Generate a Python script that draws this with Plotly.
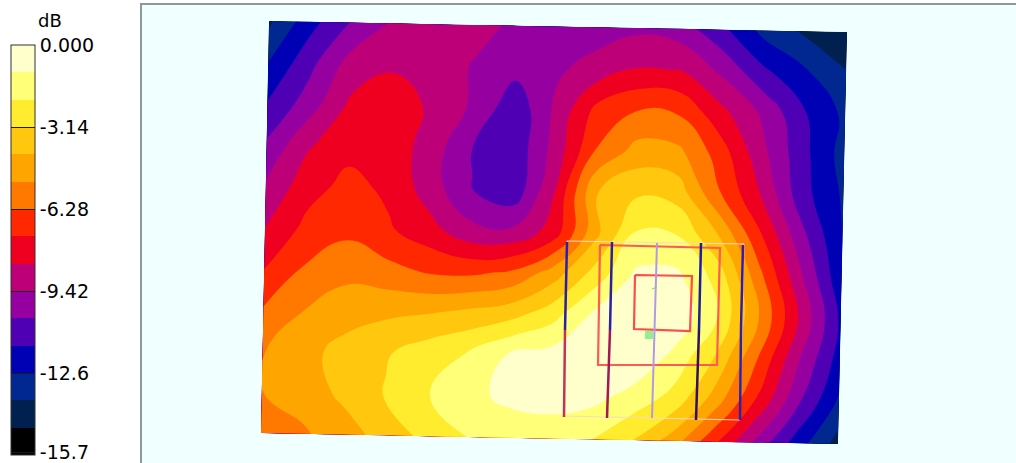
import plotly.graph_objects as go

# Band colours from the legend (lowest band first)
band_colors = ["#000000", "#00204F", "#002890", "#0000B4", "#5000B4", "#9600A0", "#BE0078",
               "#F00020", "#FF2800", "#FF7800", "#FFA500", "#FFC80F", "#FFEC2E", "#FFFF78", "#FFFFCC"]
tick_values = [-0.001, -3.14, -6.28, -9.42, -12.56, -15.6]
tick_labels = ["0.000", "-3.14", "-6.28", "-9.42", "-12.6", "-15.7"]

# Sample axes of the measured plane (top-left to bottom-right)
a_pos = [i / 14 for i in range(15)]
b_pos = [j / 10 for j in range(11)]
corner_tl = (269, 21)
corner_tr = (847, 32)
corner_bl = (261, 433)
corner_br = (838, 444)

# Field in dB, rows from top edge to bottom edge
field_db = [
    [-13.8, -11.9, -10.4, -9.3, -8.9, -9.1, -9.6, -9.85, -9.9, -9.65, -10.0, -11.3, -12.9, -13.8, -14.3],
    [-12.56, -10.8, -9.0, -8.55, -8.9, -9.5, -10.1, -9.6, -9.0, -8.3, -8.4, -9.65, -11.3, -12.4, -13.55],
    [-11.45, -9.95, -8.2, -7.65, -8.6, -9.6, -11.2, -9.2, -7.0, -6.28, -6.45, -8.1, -9.6, -11.4, -12.8],
    [-10.3, -8.5, -7.65, -7.75, -8.9, -10.5, -11.2, -9.0, -6.2, -4.8, -5.0, -6.8, -9.1, -11.2, -13.0],
    [-9.3, -7.75, -7.0, -7.55, -8.9, -10.45, -11.2, -8.4, -4.25, -3.3, -3.6, -6.2, -8.4, -11.1, -12.7],
    [-8.4, -7.05, -6.55, -7.2, -8.0, -9.1, -9.2, -7.9, -4.5, -1.95, -2.1, -4.2, -7.15, -10.1, -12.6],
    [-7.35, -6.15, -5.6, -5.95, -6.4, -6.5, -6.1, -4.7, -2.75, -0.85, -0.8, -2.5, -5.9, -9.2, -12.3],
    [-6.2, -5.23, -4.6, -4.4, -4.25, -3.9, -3.5, -2.5, -0.85, -0.3, -0.25, -2.1, -5.2, -8.5, -11.7],
    [-5.3, -4.5, -3.85, -3.25, -2.55, -2.0, -0.9, -0.6, -0.3, -0.15, -1.4, -3.3, -6.3, -9.4, -12.0],
    [-5.25, -4.75, -3.95, -3.05, -2.15, -1.4, -0.75, -0.55, -0.75, -1.5, -2.5, -4.7, -7.45, -10.3, -12.75],
    [-5.7, -5.4, -4.65, -3.8, -2.85, -2.09, -1.85, -1.75, -2.05, -3.1, -4.7, -7.1, -9.65, -12.0, -14.05],
]

# Array overlay, axis units
element_upper = [([567, 565], [242, 330], "#2A1FA8"), ([612, 610], [242, 330], "#2A1FA8"),
                 ([701, 699], [243, 330], "#1E1EA0"), ([743, 741], [245, 330], "#3A1AA0")]
element_lower = [([565, 564], [330, 417], "#C8305A"), ([610, 607], [330, 418], "#A01858"),
                 ([699, 696], [330, 420], "#301060"), ([741, 740], [330, 420], "#3020A8")]
center_element_x = [657, 652]
center_element_y = [243, 418]
outline_x = [567, 744, 740, 564, 567]
outline_y = [241, 244, 420, 416, 241]
outer_rect_x = [600, 720, 717, 598, 600]
outer_rect_y = [245, 248, 365, 365, 245]
inner_rect_x = [635, 692, 690, 634, 635]
inner_rect_y = [275, 276, 331, 329, 275]
feed_x = [649]
feed_y = [335]
tick_mark_x = [652, 657]
tick_mark_y = [289, 287]


def band_scale(colors):
    n = len(colors)
    out = []
    for k, c in enumerate(colors):
        out.append([k / n, c])
        out.append([(k + 1) / n, c])
    return out


grid_x = [[(1 - b) * ((1 - a) * corner_tl[0] + a * corner_tr[0]) + b * ((1 - a) * corner_bl[0] + a * corner_br[0])
           for a in a_pos] for b in b_pos]
grid_y = [[(1 - b) * ((1 - a) * corner_tl[1] + a * corner_tr[1]) + b * ((1 - a) * corner_bl[1] + a * corner_br[1])
           for a in a_pos] for b in b_pos]

fig = go.Figure()
hidden = dict(showgrid=False, showticklabels="none", startline=False, endline=False,
              tickmode="array", tickvals=[], minorgridcount=0, title=dict(text=""), linewidth=0)
fig.add_trace(go.Carpet(carpet="plane", a=a_pos, b=b_pos, x=grid_x, y=grid_y,
                        aaxis=hidden, baxis=hidden))
fig.add_trace(go.Contourcarpet(
    carpet="plane", a=a_pos, b=b_pos, z=field_db,
    zmin=-15.7, zmax=0, colorscale=band_scale(band_colors),
    autocontour=False,
    contours=dict(start=-15.7, end=0, size=15.7 / 15, coloring="fill", showlines=False),
    line=dict(width=0, smoothing=1.3),
    colorbar=dict(
        xref="paper", yref="paper", x=(11 - 142) / 874, xanchor="left",
        y=(463 - 455) / 458, yanchor="bottom", thickness=24, thicknessmode="pixels",
        len=410, lenmode="pixels", xpad=0, ypad=0,
        tickmode="array", tickvals=tick_values, ticktext=tick_labels,
        ticks="inside", ticklen=24, tickwidth=1, tickcolor="#1a1a1a",
        ticklabeloverflow="allow",
        outlinecolor="#303030", outlinewidth=1, borderwidth=0,
        tickfont=dict(family="DejaVu Sans", size=19, color="#000000"),
    ),
))


def add_line(xs, ys, color, width):
    fig.add_trace(go.Scatter(x=xs, y=ys, mode="lines", line=dict(color=color, width=width),
                             showlegend=False, hoverinfo="skip"))


add_line(outline_x, outline_y, "#F8DCC0", 1)
add_line(outer_rect_x, outer_rect_y, "#FF5A55", 2.2)
add_line(inner_rect_x, inner_rect_y, "#FF4A50", 2.2)
for xs, ys, color in element_upper + element_lower:
    add_line(xs, ys, color, 2.5)
add_line(center_element_x, center_element_y, "#B09AE6", 2)
add_line(tick_mark_x, tick_mark_y, "#80D080", 1)
fig.add_trace(go.Scatter(x=feed_x, y=feed_y, mode="markers",
                         marker=dict(symbol="square", size=8, color="#90F090"),
                         showlegend=False, hoverinfo="skip"))

fig.add_annotation(xref="paper", yref="paper", x=(50 - 142) / 874, y=(463 - 20) / 458,
                   xanchor="center", yanchor="middle",
                   text="dB", showarrow=False, font=dict(family="DejaVu Sans", size=18, color="#000000"))

fig.update_layout(
    width=1016, height=463, margin=dict(l=142, r=0, t=5, b=0),
    paper_bgcolor="#FFFFFF", plot_bgcolor="#F0FFFF", showlegend=False,
    xaxis=dict(range=[142, 1016], showgrid=False, zeroline=False, showticklabels=False,
               ticks="", showline=True, linecolor="#8A9A9A", linewidth=1.5, mirror=False, side="top"),
    yaxis=dict(range=[463, 5], showgrid=False, zeroline=False, showticklabels=False,
               ticks="", showline=True, linecolor="#8A9A9A", linewidth=1.5),
)

fig.write_html("out.html", config=dict(displayModeBar=False),
               post_script="document.body.style.margin='0';document.body.style.overflow='hidden';")
